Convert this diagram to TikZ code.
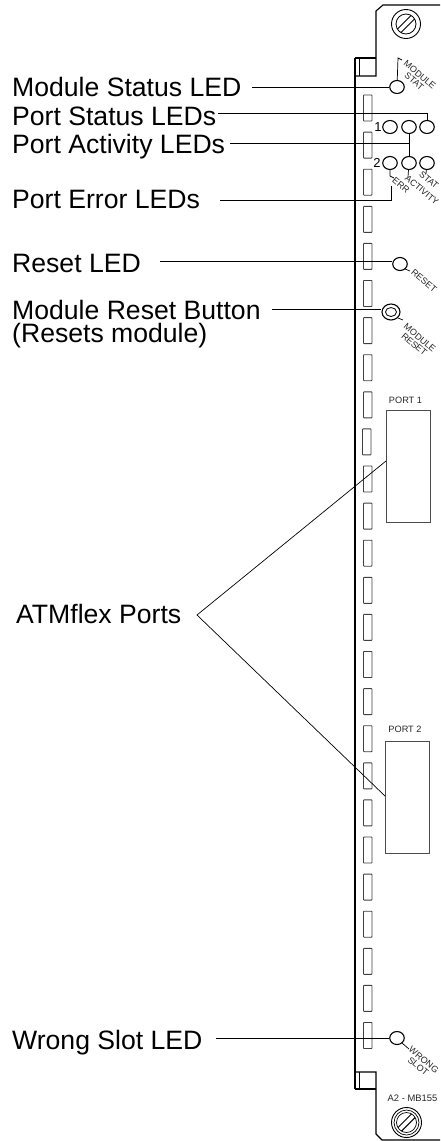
\documentclass[tikz,border=0pt]{standalone}
\usepackage{fontspec}
\setmainfont{Liberation Sans}
\usetikzlibrary{shapes.geometric}
\tikzset{
  x=1pt,y=-1pt,
  lab/.style={inner sep=0pt,anchor=base west,font=\fontsize{26.6}{27}\selectfont,text=black},
  tiny/.style={inner sep=0pt,font=\fontsize{9}{8.6}\selectfont,text=black!85,align=center},
  conn/.style={draw=black,line width=0.9pt},
  thin conn/.style={draw=black,line width=0.7pt},
  panel/.style={draw=black,line width=1.1pt},
  slot/.style={draw=black!75,line width=0.9pt,fill=white},
  led/.style={draw=black,line width=1.1pt,ellipse,minimum width=14.5pt,minimum height=13pt,inner sep=0pt,fill=white},
  portbox/.style={draw=black!70,line width=0.9pt,fill=white,rectangle,inner sep=0pt},
  screwline/.style={draw=black,line width=0.9pt},
}
\begin{document}
\begin{tikzpicture}
\useasboundingbox (0,0) rectangle (440,1141);
% slots
\foreach \n in {0,...,25}{
  \pgfmathsetmacro{\ya}{95+37.1*\n}
  \pgfmathsetmacro{\yb}{\ya+26}
  \ifnum\n=9 \draw[slot,rounded corners=0.6pt] (362.5,\ya) rectangle (371,\yb);
  \else \draw[slot,rounded corners=0.6pt] (363.5,\ya) rectangle (372,\yb); \fi
}
% faceplate
\draw[panel] (355,58) -- (355,1089);
\draw[panel] (440,5) -- (383,5) -- (376,11) -- (376,76) -- (355,76);
\draw[panel] (355,58) -- (376,58);
\draw[thin conn] (359,58) -- (359,76);
\draw[panel] (355,1072) -- (376,1072) -- (376,1134) -- (382,1140) -- (440,1140);
\draw[panel] (355,1089) -- (376,1089);
\draw[thin conn] (359,1072) -- (359,1089);
% screws
\node[draw=black,line width=0.9pt,circle,minimum size=29pt,inner sep=0pt] (s1) at (406,24) {};
\node[draw=black,line width=0.8pt,circle,minimum size=20pt,inner sep=0pt] (s1b) at (406,24) {};
\draw[screwline] (397.4,29) -- (411,15.4) (401,32.6) -- (414.6,19);
\node[draw=black,line width=0.9pt,circle,minimum size=30pt,inner sep=0pt] (s2) at (406.5,1122.5) {};
\node[draw=black,line width=0.7pt,circle,minimum size=25pt,inner sep=0pt] (s2b) at (406.5,1122.5) {};
\node[draw=black,line width=0.7pt,circle,minimum size=20pt,inner sep=0pt] (s2c) at (406.5,1122.5) {};
\draw[screwline] (397.9,1127.5) -- (411.5,1113.9) (401.5,1131.1) -- (415.1,1117.5);
% ports
\node[portbox,minimum width=44pt,minimum height=112pt] (p1) at (408,466) {};
\node[tiny,anchor=south,font=\fontsize{9.2}{9}\selectfont] at (405.5,404) {PORT 1};
\node[portbox,minimum width=44pt,minimum height=112pt] (p2) at (407,797) {};
\node[tiny,anchor=south,font=\fontsize{9.2}{9}\selectfont] at (405,733) {PORT 2};
% labels
\node[lab] (l1) at (12,96) {Module Status LED};
\node[lab] (l2) at (12,125) {Port Status LEDs};
\node[lab] (l3) at (12,153) {Port Activity LEDs};
\node[lab] (l4) at (12,208) {Port Error LEDs};
\node[lab] (l5) at (12,272) {Reset LED};
\node[lab] (l6) at (12,319) {Module Reset Button};
\node[lab] (l6b) at (12,342) {(Resets module)};
\node[lab] (l7) at (16,623) {ATMflex Ports};
\node[lab] (l8) at (12,1049) {Wrong Slot LED};
% LEDs
\node[led] (m) at (397,87) {};
\node[led] (a1) at (390,127) {};
\node[led] (a2) at (409,127) {};
\node[led] (a3) at (427,127) {};
\node[led] (b1) at (390,163) {};
\node[led] (b2) at (409,163) {};
\node[led] (b3) at (427,163) {};
\node[led] (r) at (400,264) {};
\node[led,minimum width=18pt,minimum height=16pt] (mr) at (391,312) {};
\node[led,minimum width=11pt,minimum height=9pt,line width=0.8pt] (mri) at (391,312) {};
\node[led] (w) at (397,1038) {};
% connectors
\coordinate (c1) at (252,87);
\draw[conn] (c1) -- (m);
\coordinate (c2) at (218,113);
\coordinate (c2b) at (427,113);
\draw[conn] (c2) -- (c2b) -- (a3);
\coordinate (c3) at (230,143);
\coordinate (c3b) at (409,143);
\draw[conn] (c3) -- (c3b);
\draw[conn] (a2) -- (b2);
\coordinate (c4) at (220,200);
\coordinate (c4b) at (391,200);
\coordinate (c4c) at (391,186);
\draw[conn] (c4) -- (c4b) -- (c4c);
\coordinate (c5) at (160,261);
\draw[conn] (c5) -- (c5 -| r.west);
\coordinate (c6) at (272,309);
\draw[conn] (c6) -- (c6 -| mr.west);
\coordinate (c8) at (216,1038);
\draw[conn] (c8) -- (w);
\coordinate (apex) at (197,615);
\coordinate (p1t) at (386,461);
\coordinate (p2t) at (385,796);
\draw[thin conn] (p1t) -- (apex) -- (p2t);
% tiny labels with leaders
\coordinate (ml) at (398,58);
\coordinate (ml2) at (402,60);
\draw[thin conn] (m) -- (ml) -- (ml2);
\node[tiny,rotate=-40] at (417,78) {MODULE\\STAT};
\draw[thin conn] (r) ++(5,5) -- (410,271);
\node[tiny,rotate=-40] at (424,281) {RESET};
\draw[thin conn] (mr) ++(7,6) -- (403,320);
\node[tiny,rotate=-40] at (417,341) {MODULE\\RESET};
\draw[thin conn] (w) ++(5,5) -- (409,1049);
\node[tiny,rotate=-40] at (421,1063) {WRONG\\SLOT};
\coordinate (e1) at (390,176);
\coordinate (e2) at (394,178);
\draw[thin conn] (b1) -- (e1) -- (e2);
\node[tiny,rotate=-40] at (401,185) {ERR};
\coordinate (e3) at (408,177);
\draw[thin conn] (b2) -- (e3);
\node[tiny,rotate=-40] at (422,190) {ACTIVITY};
\coordinate (e4) at (426,174);
\draw[thin conn] (b3) -- (e4);
\node[tiny,rotate=-40] at (429,180) {STAT};
\node[inner sep=0pt,font=\fontsize{13}{13}\selectfont] (n1) at (378,127) {1};
\node[inner sep=0pt,font=\fontsize{13}{13}\selectfont] (n2) at (377,163) {2};
\node[tiny,anchor=center,font=\fontsize{9.4}{9}\selectfont] (mb) at (412.5,1098) {A2 - MB155};
\end{tikzpicture}
\end{document}
